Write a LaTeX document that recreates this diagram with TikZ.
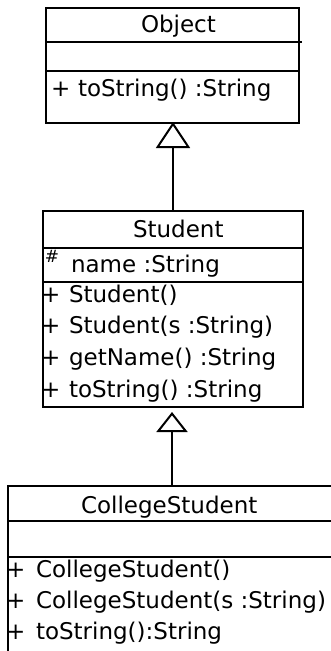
\documentclass[tikz,border=0pt]{standalone}
\usepackage{fontspec}
\setmainfont{DejaVu Sans}
\usetikzlibrary{arrows.meta}
\begin{document}
\begin{tikzpicture}[x=1pt,y=-1pt, line width=2pt,
  cls/.style={draw, inner sep=0pt, anchor=north west},
  txt/.style={anchor=base west, inner sep=0pt, font=\fontsize{23}{27}\selectfont},
  hashtxt/.style={anchor=base west, inner sep=0pt, font=\fontsize{17}{19}\selectfont},
  inhbig/.style={-{Triangle[open, length=26pt, width=34pt]}},
  inhsmall/.style={-{Triangle[open, length=20pt, width=31pt]}}]
\clip (0,0) rectangle (331,651);
\fill[white] (0,0) rectangle (331,651);
% Object
\node[cls, minimum width=253pt, minimum height=115pt] (obj) at (45,7) {};
\draw (45,42) -- (302,42);
\draw (45,71) -- (298,71);
\node[txt] (objname) at (140,32) {Object};
\node[txt] (objp1) at (50,96) {+};
\node[txt] (objm1) at (77,96) {toString() :String};
% Student
\node[cls, minimum width=260pt, minimum height=196pt] (stu) at (42,210) {};
\draw (42,248) -- (302,248);
\draw (42,282) -- (302,282);
\node[txt] (stuname) at (132,237) {Student};
\node[hashtxt] (stuhash) at (44,262) {\#};
\node[txt] (stuattr) at (70,272) {name :String};
\node[txt] (stup1) at (40,302) {+};
\node[txt] (stum1) at (68,302) {Student()};
\node[txt] (stup2) at (40,333) {+};
\node[txt] (stum2) at (68,333) {Student(s :String)};
\node[txt] (stup3) at (40,365) {+};
\node[txt] (stum3) at (68,365) {getName() :String};
\node[txt] (stup4) at (40,397) {+};
\node[txt] (stum4) at (68,397) {toString() :String};
% CollegeStudent
\node[cls, minimum width=360pt, minimum height=200pt] (cs) at (7,485) {};
\draw (7,521) -- (340,521);
\draw (7,557) -- (340,557);
\node[txt] (csname) at (80,513) {CollegeStudent};
\node[txt] (csp1) at (5,577) {+};
\node[txt] (csm1) at (35,577) {CollegeStudent()};
\node[txt] (csp2) at (5,608) {+};
\node[txt] (csm2) at (35,608) {CollegeStudent(s :String)};
\node[txt] (csp3) at (5,639) {+};
\node[txt] (csm3) at (35,639) {toString():String};
% connectors
\coordinate (stutop) at (173,210);
\coordinate (objbot) at (173,122);
\draw[inhbig] (stutop) -- (objbot);
\coordinate (cstop) at (172,485);
\coordinate (stubot) at (172,406);
\draw[inhsmall, shorten >=6pt] (cstop) -- (stubot);
\end{tikzpicture}
\end{document}
